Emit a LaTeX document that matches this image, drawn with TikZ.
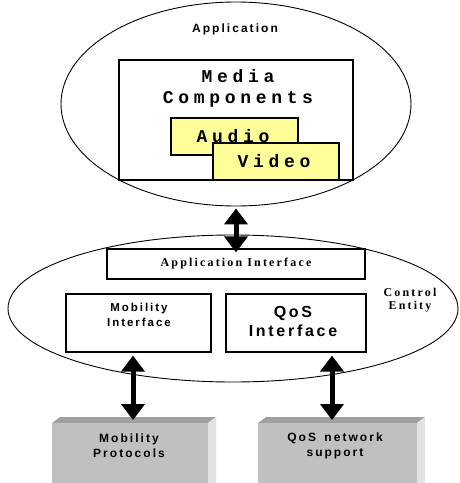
\documentclass[tikz,border=0pt]{standalone}
\usepackage{fontspec}
\usetikzlibrary{arrows.meta,shapes.geometric}
\newfontfamily\arialsp[LetterSpace=17]{Liberation Sans}
\newfontfamily\timessp[LetterSpace=18]{Liberation Serif}
\newfontfamily\couriersp[LetterSpace=26]{Liberation Mono}
\definecolor{mediayellow}{HTML}{FFFF99}
\definecolor{frontgray}{HTML}{C0C0C0}
\definecolor{topgray}{HTML}{A0A0A0}
\definecolor{sidegray}{HTML}{E2E2E2}
\tikzset{
  oval/.style={draw,ellipse,line width=.9pt,inner sep=0pt},
  box/.style={draw,fill=white,line width=1.2pt,inner sep=0pt},
  mediabox/.style={box,fill=mediayellow,font=\couriersp\bfseries\fontsize{18}{18}\selectfont},
  bigarrow/.style={line width=5pt,{Triangle[width=23pt,length=16pt]}-{Triangle[width=23pt,length=16pt]}},
  sanslabel/.style={font=\arialsp\bfseries\fontsize{#1}{#1}\selectfont,align=center,inner sep=0pt},
  seriflabel/.style={font=\timessp\bfseries\fontsize{#1}{#1}\selectfont,align=center,inner sep=0pt}
}
\begin{document}
\begin{tikzpicture}[x=1pt,y=-1pt]
\useasboundingbox (0,0) rectangle (460,483);

% the two entities
\node[oval,minimum width=350pt,minimum height=204pt] (app) at (236,104) {};
\node[oval,minimum width=450pt,minimum height=147pt] (ctrl) at (233,308.5) {};

% application side
\node[sanslabel=12] (apptitle) at (235,29) {Application};
\node[box,minimum width=234pt,minimum height=120pt] (media) at (236,120) {};
\node[font=\couriersp\bfseries\fontsize{18}{21}\selectfont,align=center,inner sep=0pt] (mediatxt) at (238,88.5) {Media\\Components};
\node[mediabox,minimum width=127pt,minimum height=37pt] (audio) at (234.5,136.5) {\hspace*{-3pt}Audio};
\node[mediabox,minimum width=126pt,minimum height=37pt] (video) at (276,161.5) {\hspace*{-4pt}Video};

% control entity
\node[box,minimum width=258pt,minimum height=30pt,seriflabel=12] (appif) at (236,264) {Application Interface};
\node[box,minimum width=145pt,minimum height=58pt] (mobif) at (138.5,323) {};
\node[box,minimum width=140pt,minimum height=58pt] (qosif) at (296,323) {};
\node[sanslabel=11.5] (mobiftxt) at (139,315) {Mobility\\[4pt]Interface};
\node[sanslabel=16] (qosiftxt) at (293,321) {QoS\\[3pt]Interface};
\node[seriflabel=12] (ctrltxt) at (410,300.5) {Control\\[1pt]Entity};

% network side
\foreach \xl/\xr/\nm in {52/208/mobproto,258/417/qosproto}
{
  \fill[topgray] (\xl,423) -- (\xl+8,417) -- (\xr+8,417) -- (\xr,423) -- cycle;
  \fill[sidegray] (\xr,423) -- (\xr+8,417) -- (\xr+8,483) -- (\xr,483) -- cycle;
  \fill[frontgray] (\xl,423) rectangle (\xr,483);
  \coordinate (\nm) at ({(\xl+\xr)/2},423);
}
\node[sanslabel=12] (mobprototxt) at (129,446) {Mobility\\[3pt]Protocols};
\node[sanslabel=12] (qosprototxt) at (335,446) {QoS\hspace{3pt} network\\[3pt]support};

% links
\draw[bigarrow] ([yshift=-2pt]app.south) -- ([yshift=-4pt]appif.north);
\draw[bigarrow] ([xshift=-5.5pt,yshift=-3pt]mobif.south) -- ([xshift=3pt,yshift=3pt]mobproto);
\draw[bigarrow] ([xshift=36pt,yshift=-3pt]qosif.south) -- ([xshift=-5.5pt,yshift=3pt]qosproto);

\end{tikzpicture}
\end{document}
